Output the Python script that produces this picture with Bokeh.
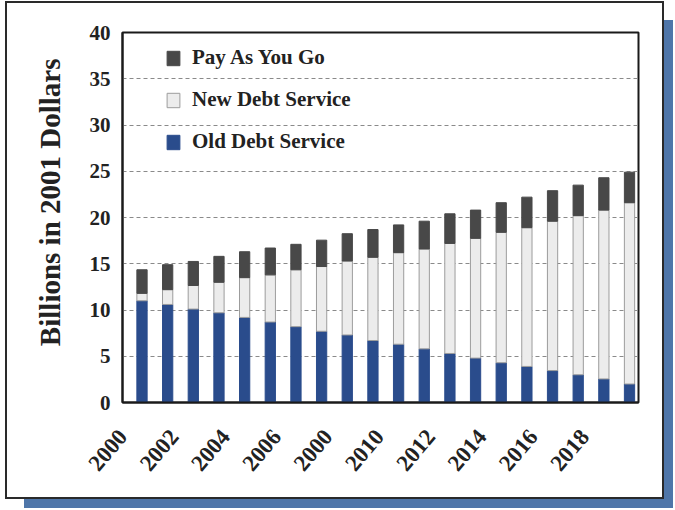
import math
from bokeh.plotting import figure
from bokeh.models import Range1d, FixedTicker, Legend, LegendItem, ColumnDataSource, Title
from bokeh.transform import dodge
from bokeh.embed import file_html
from bokeh.resources import INLINE

years = list(range(2000, 2020))
old_debt = [11.0, 10.6, 10.1, 9.7, 9.2, 8.7, 8.2, 7.7, 7.3, 6.7,
            6.3, 5.8, 5.3, 4.8, 4.3, 3.9, 3.45, 3.0, 2.55, 2.0]
new_debt = [0.8, 1.6, 2.55, 3.3, 4.3, 5.1, 6.15, 7.0, 8.0, 9.0,
            9.9, 10.8, 11.9, 12.95, 14.1, 15.0, 16.15, 17.2, 18.25, 19.6]
pay_go = [2.55, 2.7, 2.6, 2.8, 2.8, 2.9, 2.75, 2.85, 2.95, 3.0,
          3.0, 3.0, 3.2, 3.05, 3.2, 3.3, 3.3, 3.3, 3.5, 3.3]
tick_years = [2000, 2002, 2004, 2006, 2008, 2010, 2012, 2014, 2016, 2018]
tick_labels = ["2000", "2002", "2004", "2006", "2000", "2010", "2012", "2014", "2016", "2018"]
y_ticks = [0, 5, 10, 15, 20, 25, 30, 35, 40]
series_keys = ["old", "new", "pay"]
series_names = ["Old Debt Service", "New Debt Service", "Pay As You Go"]
series_colors = ["#2a4c8c", "#ececec", "#484848"]
series_lines = ["#2a4c8c", "#9c9c9c", "#484848"]

FONT = "Liberation Serif"
LABEL_SHIFT = -0.25  # rotated labels end at the tick, as in the original

src = ColumnDataSource(dict(year=years, old=old_debt, new=new_debt, pay=pay_go))

p = figure(width=659, height=498, output_backend="svg", toolbar_location=None,
           x_range=Range1d(1999.74, 2019.85), y_range=Range1d(0, 40),
           min_border_left=115, min_border_right=28, min_border_top=29, min_border_bottom=99,
           background_fill_color="white", border_fill_color="white")
p.styles = {"border": "2px solid #2a2a2a", "box-shadow": "14px 14px 0 -5px #4f76a9",
            "margin-left": "5px", "margin-top": "1px"}

rs = p.vbar_stack(series_keys, x=dodge("year", 0.5), width=0.4, source=src,
                  fill_color=series_colors, line_color=series_lines, line_width=1)

legend = Legend(items=[LegendItem(label=series_names[i], renderers=[rs[i]]) for i in (2, 1, 0)],
                location=(43, 248), orientation="vertical", spacing=17, padding=0, margin=0,
                glyph_width=16, glyph_height=18, label_standoff=11,
                label_text_font=FONT, label_text_font_size="21px", label_text_font_style="bold",
                label_text_color="#222222", background_fill_alpha=0, border_line_alpha=0)
p.add_layout(legend)

p.xgrid.visible = False
p.ygrid.ticker = FixedTicker(ticks=y_ticks)
p.ygrid.grid_line_color = "#8a8a8a"
p.ygrid.grid_line_dash = "4 3"
p.ygrid.grid_line_width = 1

p.outline_line_color = "#1a1a1a"
p.outline_line_width = 2

tick_pos = [y + LABEL_SHIFT for y in tick_years]
p.yaxis.ticker = FixedTicker(ticks=y_ticks)
p.xaxis.ticker = FixedTicker(ticks=tick_pos)
p.xaxis.major_label_overrides = {t: l for t, l in zip(tick_pos, tick_labels)}
p.xaxis.major_label_orientation = 0.87

for ax in (p.xaxis[0], p.yaxis[0]):
    ax.axis_line_color = "#1a1a1a"
    ax.axis_line_width = 2
    ax.major_tick_out = 0
    ax.major_tick_in = 0
    ax.minor_tick_out = 0
    ax.minor_tick_in = 0
    ax.major_label_text_font = FONT
    ax.major_label_text_font_style = "bold"
    ax.major_label_text_color = "#222222"

p.yaxis.major_label_text_font_size = "21px"
p.xaxis.major_label_text_font_size = "23px"
p.yaxis.major_label_standoff = 12
p.xaxis.major_label_standoff = 30

ylab = Title(text="Billions in 2001 Dollars", align="right", offset=26, standoff=42,
             text_font=FONT, text_font_size="29px", text_font_style="bold",
             text_color="#222222")
p.add_layout(ylab, "left")

open("out.html", "w").write(file_html(p, INLINE))
